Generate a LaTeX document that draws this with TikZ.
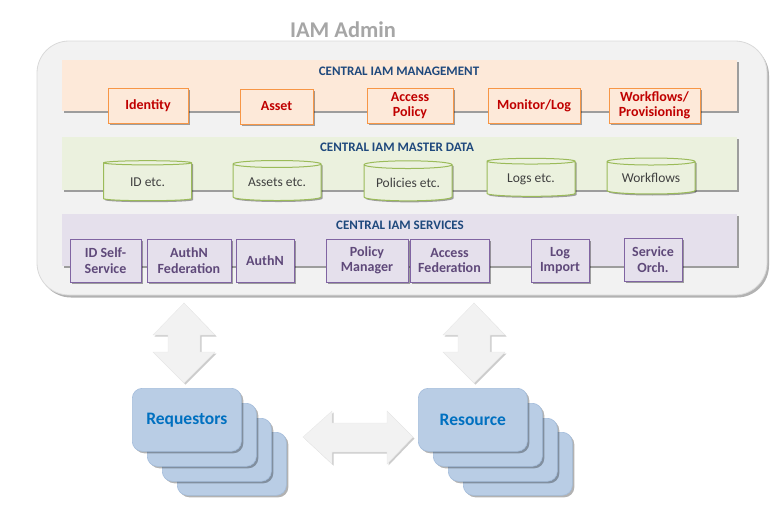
\documentclass[tikz,border=0pt]{standalone}
\usepackage{fontspec}
\setmainfont{Carlito}
\usetikzlibrary{shapes.geometric,shadows}
\definecolor{contfill}{HTML}{F2F2F2}
\definecolor{contline}{HTML}{D9D9D9}
\definecolor{mgmtfill}{HTML}{FDE9D9}
\definecolor{mgmtline}{HTML}{F79646}
\definecolor{mgmttext}{HTML}{C00000}
\definecolor{datafill}{HTML}{EBF1DE}
\definecolor{dataline}{HTML}{9BBB59}
\definecolor{datatext}{HTML}{404040}
\definecolor{servfill}{HTML}{E5E0EC}
\definecolor{servline}{HTML}{8064A2}
\definecolor{servtext}{HTML}{5F497A}
\definecolor{titleblue}{HTML}{1F497D}
\definecolor{cardfill}{HTML}{B9CDE5}
\definecolor{cardline}{HTML}{A3BCDB}
\definecolor{cardtext}{HTML}{0070C0}
\definecolor{admintext}{HTML}{A6A6A6}
\begin{document}
\begin{tikzpicture}[x=1pt,y=-1pt,
  shade/.style={drop shadow={shadow xshift=1.5pt,shadow yshift=-1.5pt,fill=black,opacity=0.35}},
  container/.style={draw=contline,fill=contfill,line width=0.8pt,rounded corners=32pt,
     drop shadow={shadow xshift=2pt,shadow yshift=-2.5pt,fill=black,opacity=0.3}},
  band/.style={shade,inner sep=0pt,anchor=north west},
  bandtitle/.style={font=\bfseries\fontsize{13}{14}\selectfont,text=titleblue,inner sep=0pt},
  mbox/.style={shade,draw=mgmtline,fill=mgmtfill,line width=1pt,inner sep=0pt,align=center,
     font=\bfseries\fontsize{14}{14.5}\selectfont,text=mgmttext},
  dbase/.style={shade,draw=dataline,fill=datafill,line width=1pt,cylinder,shape border rotate=90,
     aspect=0.12,inner sep=0pt,minimum width=88pt,minimum height=40pt,
     font=\fontsize{13.5}{14}\selectfont,text=datatext},
  sbox/.style={shade,draw=servline,fill=servfill,line width=1pt,inner sep=0pt,align=center,
     minimum height=43pt,font=\bfseries\fontsize{14}{15.5}\selectfont,text=servtext},
  blockarrow/.style={fill=contfill,draw=contline!60,line width=0.4pt,
     drop shadow={shadow xshift=1.5pt,shadow yshift=-1.5pt,fill=black,opacity=0.2}},
  card/.style={draw=cardline,fill=cardfill,line width=0.6pt,rounded corners=10pt,anchor=north west,
     minimum width=109pt,minimum height=63pt,inner sep=0pt,
     drop shadow={shadow xshift=2pt,shadow yshift=-2pt,fill=black,opacity=0.3}},
  cardlabel/.style={font=\bfseries\fontsize{17.5}{19}\selectfont,text=cardtext,inner sep=0pt}
]
\useasboundingbox (0,0) rectangle (780,517);

% container
\path[container] (37,41) rectangle (767,295);
\node[font=\bfseries\fontsize{22.5}{24}\selectfont,text=admintext,inner sep=0pt] (admintitle) at (343,30) {IAM Admin};

% management band
\node[band,fill=mgmtfill,minimum width=675pt,minimum height=51pt] (mgmt) at (62,60) {};
\node[bandtitle] (mgmttitle) at (399,71) {CENTRAL IAM MANAGEMENT};
\node[mbox,minimum width=80pt,minimum height=35pt] (identity) at (148,106) {Identity};
\node[mbox,minimum width=73pt,minimum height=35pt] (asset) at (276.5,106.5) {Asset};
\node[mbox,minimum width=86pt,minimum height=35pt] (accpol) at (410,105.5) {Access\\Policy};
\node[mbox,minimum width=92pt,minimum height=35pt] (monlog) at (534,106) {Monitor/Log};
\node[mbox,minimum width=91pt,minimum height=35pt] (wfprov) at (654.5,105.5) {Workflows/\\Provisioning};

% master data band
\node[band,fill=datafill,minimum width=675pt,minimum height=53pt] (data) at (62,137) {};
\node[bandtitle] (datatitle) at (397,147) {CENTRAL IAM MASTER DATA};
\node[dbase] (iddb) at (147.5,182) {ID etc.};
\node[dbase] (assetdb) at (277,182.5) {Assets etc.};
\node[dbase] (poldb) at (408,183) {Policies etc.};
\node[dbase,minimum height=38pt] (logdb) at (531,179) {Logs etc.};
\node[dbase,minimum height=36pt] (wfdb) at (651,178) {Workflows};

% services band
\node[band,fill=servfill,minimum width=675pt,minimum height=52pt] (serv) at (62,214) {};
\node[bandtitle] (servtitle) at (400,225) {CENTRAL IAM SERVICES};
\node[sbox,minimum width=71pt] (idself) at (105.5,260.5) {ID Self-\\Service};
\node[sbox,minimum width=84pt] (authnfed) at (189,260.5) {AuthN\\Federation};
\node[sbox,minimum width=58pt] (authn) at (265,260.5) {AuthN};
\node[sbox,minimum width=82pt] (polman) at (367,260.5) {Policy\\Manager};
\node[sbox,minimum width=79pt] (accfed) at (449.5,260.5) {Access\\Federation};
\node[sbox,minimum width=58pt] (logimp) at (560,260.5) {Log\\Import};
\node[sbox,minimum width=58pt] (svcorch) at (653,259.5) {Service\\Orch.};

% block arrows
\foreach \cx/\nm in {184/uparrowA,474/uparrowB}{
  \path[blockarrow] (\cx,303) coordinate (\nm-top) -- (\cx+31,335) -- (\cx+16,335) -- (\cx+16,352)
    -- (\cx+31,352) -- (\cx,383) coordinate (\nm-bottom) -- (\cx-31,352) -- (\cx-16,352)
    -- (\cx-16,335) -- (\cx-31,335) -- cycle;
}
\path[blockarrow] (303,437) coordinate (harrow-left) -- (332,411) -- (332,423) -- (387,423) -- (387,411)
  -- (413,437) coordinate (harrow-right) -- (387,464) -- (387,452) -- (332,452) -- (332,464) -- cycle;

% requestor cards
\node[card] (req4) at (177,432) {};
\node[card] (req3) at (162,418) {};
\node[card] (req2) at (147,403) {};
\node[card] (req1) at (132,388) {};
\node[cardlabel] (reqlabel) at (req1.center) {Requestors};

% resource cards
\node[card] (res4) at (463,432) {};
\node[card] (res3) at (448,418) {};
\node[card] (res2) at (433,403) {};
\node[card] (res1) at (418,388) {};
\node[cardlabel] (reslabel) at (res1.center) {Resource};
\end{tikzpicture}
\end{document}
